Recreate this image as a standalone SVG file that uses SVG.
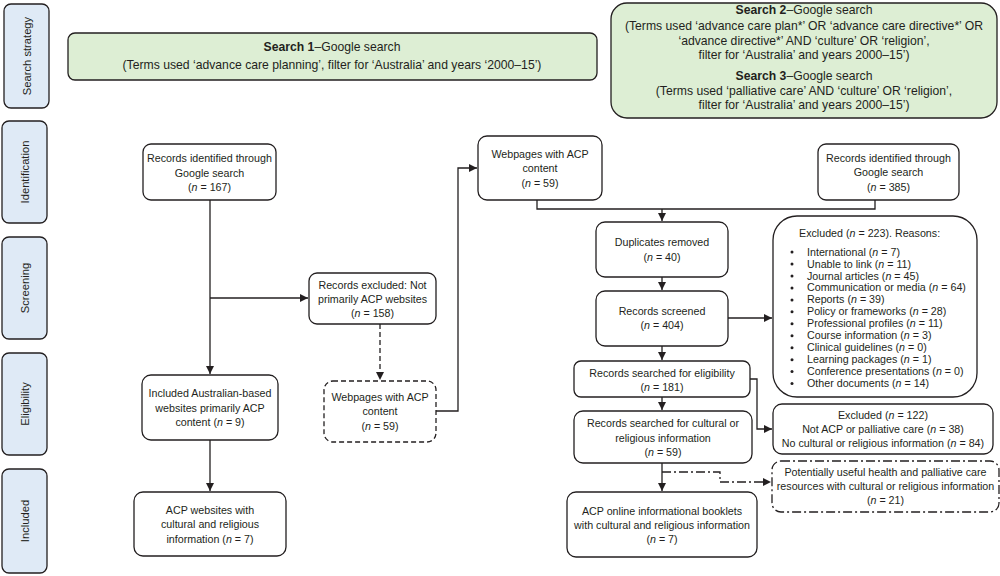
<svg xmlns="http://www.w3.org/2000/svg" width="1000" height="576" viewBox="0 0 1000 576">
<defs>
<marker id="arr" markerUnits="userSpaceOnUse" markerWidth="9" markerHeight="8" refX="8" refY="4" orient="auto"><path d="M0,0 L8,4 L0,8 z" fill="#231f20"/></marker>
<style>
text{font-family:"Liberation Sans",Arial,sans-serif;fill:#231f20;}
.t{font-size:10.7px;text-anchor:middle;}
.l{font-size:10.7px;}
.s{font-size:12.2px;text-anchor:middle;}
.side{font-size:11.2px;text-anchor:middle;}
.box{fill:#fff;stroke:#231f20;stroke-width:1.3;}
.dash{fill:#fff;stroke:#231f20;stroke-width:1.3;stroke-dasharray:5,3;}
.dd{fill:#fff;stroke:#231f20;stroke-width:1.3;stroke-dasharray:9,3,2,3;}
.sb{fill:#dfeaf6;stroke:#231f20;stroke-width:1.3;}
.gb{fill:#ddeed4;stroke:#231f20;stroke-width:1.3;}
.c{fill:none;stroke:#231f20;stroke-width:1.3;}
.bul{fill:#231f20;}
.i{font-style:italic;}
.b{font-weight:bold;}
</style>
</defs>

<g id="side-search"><rect class="sb" x="4" y="4" width="45" height="104" rx="7"/><text class="side" transform="translate(30.5,56) rotate(-90)">Search strategy</text></g>
<g id="side-ident"><rect class="sb" x="2" y="121" width="45" height="102" rx="7"/><text class="side" transform="translate(28.5,172) rotate(-90)">Identification</text></g>
<g id="side-screen"><rect class="sb" x="2" y="237" width="45" height="102" rx="7"/><text class="side" transform="translate(28.5,288) rotate(-90)">Screening</text></g>
<g id="side-elig"><rect class="sb" x="2" y="353" width="45" height="102" rx="7"/><text class="side" transform="translate(28.5,404) rotate(-90)">Eligibility</text></g>
<g id="side-incl"><rect class="sb" x="2" y="469" width="45" height="104" rx="7"/><text class="side" transform="translate(28.5,521) rotate(-90)">Included</text></g>

<g id="search1"><rect class="gb" x="68" y="33" width="529" height="47" rx="7"/>
<text class="s" x="332" y="51"><tspan class="b">Search 1</tspan>–Google search</text>
<text class="s" x="332" y="69">(Terms used ‘advance care planning’, filter for ‘Australia’ and years ‘2000–15’)</text></g>

<g id="search23"><rect class="gb" x="611" y="3" width="386" height="115" rx="16"/>
<text class="s" x="804" y="14.3"><tspan class="b">Search 2</tspan>–Google search</text>
<text class="s" x="804" y="30.3">(Terms used ‘advance care plan*’ OR ‘advance care directive*’ OR</text>
<text class="s" x="804" y="45">‘advance directive*’ AND ‘culture’ OR ‘religion’,</text>
<text class="s" x="804" y="59.3">filter for ‘Australia’ and years 2000–15’)</text>
<text class="s" x="804" y="80.3"><tspan class="b">Search 3</tspan>–Google search</text>
<text class="s" x="804" y="95.3">(Terms used ‘palliative care’ AND ‘culture’ OR ‘religion’,</text>
<text class="s" x="804" y="109.3">filter for ‘Australia’ and years 2000–15’)</text></g>

<g id="connectors">
<path class="c" d="M210,200 V374" marker-end="url(#arr)"/>
<path class="c" d="M210,298 H308" marker-end="url(#arr)"/>
<path class="c" d="M210,440 V491" marker-end="url(#arr)"/>
<path class="c" d="M380,324 V380" stroke-dasharray="5,3" marker-end="url(#arr)"/>
<path class="c" d="M436,411 H458 V168 H477" marker-end="url(#arr)"/>
<path class="c" d="M537,200 V209 H875 V200"/>
<path class="c" d="M662,209 V221" marker-end="url(#arr)"/>
<path class="c" d="M662,277 V290" marker-end="url(#arr)"/>
<path class="c" d="M728,318 H772" marker-end="url(#arr)"/>
<path class="c" d="M662,346 V360" marker-end="url(#arr)"/>
<path class="c" d="M662,397 V410" marker-end="url(#arr)"/>
<path class="c" d="M750,379 H757 V429 H772" marker-end="url(#arr)"/>
<path class="c" d="M662,463 V491" marker-end="url(#arr)"/>
<path class="c" d="M662,472 H720 V482 H771" stroke-dasharray="9,3,2,3" marker-end="url(#arr)"/>
</g>

<g id="n167"><rect class="box" x="143" y="144" width="133" height="56" rx="8"/>
<text class="t" x="209.5" y="162">Records identified through</text>
<text class="t" x="209.5" y="176.5">Google search</text>
<text class="t" x="209.5" y="191">(<tspan class="i">n</tspan> = 167)</text></g>

<g id="excl158"><rect class="box" x="309" y="273" width="127" height="51" rx="8"/>
<text class="t" x="372.5" y="289">Records excluded: Not</text>
<text class="t" x="372.5" y="303">primarily ACP websites</text>
<text class="t" x="372.5" y="317">(<tspan class="i">n</tspan> = 158)</text></g>

<g id="incl9"><rect class="box" x="142" y="375" width="136" height="65" rx="9"/>
<text class="t" x="210" y="397">Included Australian-based</text>
<text class="t" x="210" y="411.5">websites primarily ACP</text>
<text class="t" x="210" y="426">content (<tspan class="i">n</tspan> = 9)</text></g>

<g id="acp7"><rect class="box" x="134" y="492" width="152" height="64" rx="9"/>
<text class="t" x="210" y="514">ACP websites with</text>
<text class="t" x="210" y="528">cultural and religious</text>
<text class="t" x="210" y="543">information (<tspan class="i">n</tspan> = 7)</text></g>

<g id="web59dashed"><rect class="dash" x="324" y="381" width="112" height="61" rx="9"/>
<text class="t" x="380" y="401">Webpages with ACP</text>
<text class="t" x="380" y="415">content</text>
<text class="t" x="380" y="430">(<tspan class="i">n</tspan> = 59)</text></g>

<g id="web59"><rect class="box" x="478" y="136" width="124" height="64" rx="9"/>
<text class="t" x="540" y="158">Webpages with ACP</text>
<text class="t" x="540" y="172">content</text>
<text class="t" x="540" y="187">(<tspan class="i">n</tspan> = 59)</text></g>

<g id="n385"><rect class="box" x="818" y="144" width="141" height="56" rx="8"/>
<text class="t" x="888.5" y="162">Records identified through</text>
<text class="t" x="888.5" y="176">Google search</text>
<text class="t" x="888.5" y="191">(<tspan class="i">n</tspan> = 385)</text></g>

<g id="dup"><rect class="box" x="596" y="222" width="132" height="55" rx="9"/>
<text class="t" x="662" y="246">Duplicates removed</text>
<text class="t" x="662" y="261">(<tspan class="i">n</tspan> = 40)</text></g>

<g id="screened"><rect class="box" x="596" y="291" width="132" height="55" rx="9"/>
<text class="t" x="662" y="315">Records screened</text>
<text class="t" x="662" y="329">(<tspan class="i">n</tspan> = 404)</text></g>

<g id="excl223"><rect class="box" x="773" y="216" width="204" height="181" rx="24"/>
<text class="l" x="799" y="237">Excluded (<tspan class="i">n</tspan> = 223). Reasons:</text>
<g class="bul">
<circle cx="792" cy="252" r="1.5"/><circle cx="792" cy="264" r="1.5"/><circle cx="792" cy="276" r="1.5"/>
<circle cx="792" cy="287.9" r="1.5"/><circle cx="792" cy="299.9" r="1.5"/><circle cx="792" cy="311.8" r="1.5"/>
<circle cx="792" cy="323.8" r="1.5"/><circle cx="792" cy="335.8" r="1.5"/><circle cx="792" cy="347.7" r="1.5"/>
<circle cx="792" cy="359.7" r="1.5"/><circle cx="792" cy="371.6" r="1.5"/><circle cx="792" cy="383.5" r="1.5"/>
</g>
<text class="l" x="807" y="255.5">International (<tspan class="i">n</tspan> = 7)</text>
<text class="l" x="807" y="267.5">Unable to link (<tspan class="i">n</tspan> = 11)</text>
<text class="l" x="807" y="279.5">Journal articles (<tspan class="i">n</tspan> = 45)</text>
<text class="l" x="807" y="291.4">Communication or media (<tspan class="i">n</tspan> = 64)</text>
<text class="l" x="807" y="303.4">Reports (<tspan class="i">n</tspan> = 39)</text>
<text class="l" x="807" y="315.3">Policy or frameworks (<tspan class="i">n</tspan> = 28)</text>
<text class="l" x="807" y="327.3">Professional profiles (<tspan class="i">n</tspan> = 11)</text>
<text class="l" x="807" y="339.3">Course information (<tspan class="i">n</tspan> = 3)</text>
<text class="l" x="807" y="351.2">Clinical guidelines (<tspan class="i">n</tspan> = 0)</text>
<text class="l" x="807" y="363.2">Learning packages (<tspan class="i">n</tspan> = 1)</text>
<text class="l" x="807" y="375.1">Conference presentations (<tspan class="i">n</tspan> = 0)</text>
<text class="l" x="807" y="387">Other documents (<tspan class="i">n</tspan> = 14)</text>
</g>

<g id="elig"><rect class="box" x="574" y="361" width="176" height="36" rx="7"/>
<text class="t" x="662" y="377">Records searched for eligibility</text>
<text class="t" x="662" y="391">(<tspan class="i">n</tspan> = 181)</text></g>

<g id="cult"><rect class="box" x="574" y="411" width="178" height="52" rx="9"/>
<text class="t" x="663" y="427">Records searched for cultural or</text>
<text class="t" x="663" y="442">religious information</text>
<text class="t" x="663" y="456">(<tspan class="i">n</tspan> = 59)</text></g>

<g id="excl122"><rect class="box" x="773" y="404" width="220" height="50" rx="9"/>
<text class="t" x="883" y="419">Excluded (<tspan class="i">n</tspan> = 122)</text>
<text class="t" x="883" y="433">Not ACP or palliative care (<tspan class="i">n</tspan> = 38)</text>
<text class="t" x="883" y="447">No cultural or religious information (<tspan class="i">n</tspan> = 84)</text></g>

<g id="useful"><rect class="dd" x="772" y="461" width="227" height="51" rx="9"/>
<text class="t" x="885.5" y="476">Potentially useful health and palliative care</text>
<text class="t" x="885.5" y="490">resources with cultural or religious information</text>
<text class="t" x="885.5" y="504">(<tspan class="i">n</tspan> = 21)</text></g>

<g id="booklets"><rect class="box" x="567" y="492" width="190" height="65" rx="9"/>
<text class="t" x="662" y="515">ACP online informational booklets</text>
<text class="t" x="662" y="529">with cultural and religious information</text>
<text class="t" x="662" y="543">(<tspan class="i">n</tspan> = 7)</text></g>
</svg>
